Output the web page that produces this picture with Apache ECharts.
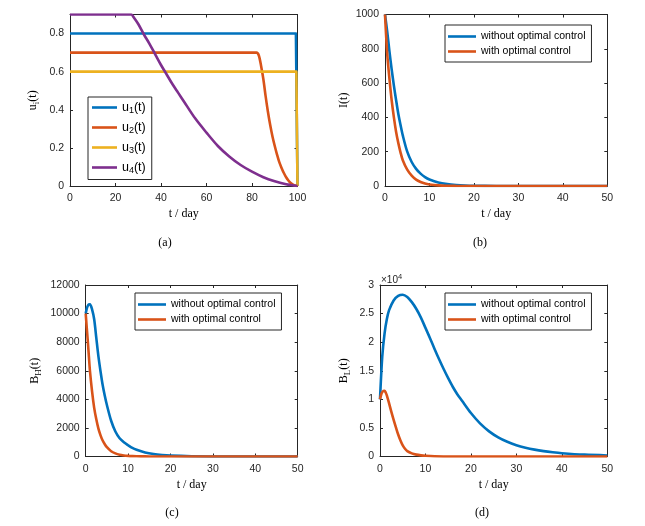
<!DOCTYPE html>
<html>
<head>
<meta charset="utf-8">
<script src="https://cdn.jsdelivr.net/npm/echarts@6/dist/echarts.min.js"></script>
<style>
html, body { margin: 0; padding: 0; background: #fff; }
#chart { width: 645px; height: 526px; }
</style>
</head>
<body>
<div id="chart"></div>
<script>
// (a) controls u_i(t), t in days
var tU1 = [0, 99.3, 100];
var u1 = [0.8, 0.8, 0];
var tU2 = [0, 82, 83, 84, 85, 86, 87, 88, 89, 90, 91, 92, 93, 94, 95, 96, 97, 98, 99, 100];
var u2 = [0.7, 0.7, 0.685, 0.63, 0.56, 0.47, 0.39, 0.32, 0.26, 0.21, 0.165, 0.125, 0.095, 0.068, 0.046, 0.029, 0.016, 0.007, 0.002, 0];
var tU3 = [0, 99.5, 100];
var u3 = [0.6, 0.6, 0];
var tU4 = [0, 27, 28, 30, 32.5, 35, 37.5, 40, 42.5, 45, 47.5, 50, 55, 60, 65, 70, 75, 80, 85, 90, 95, 100];
var u4 = [0.9, 0.9, 0.885, 0.85, 0.795, 0.745, 0.69, 0.635, 0.585, 0.535, 0.49, 0.445, 0.355, 0.28, 0.21, 0.155, 0.11, 0.075, 0.046, 0.025, 0.009, 0];

// (b) I(t)
var tI = [0, 0.5, 1, 1.5, 2, 2.5, 3, 3.5, 4, 5, 6, 7, 8, 9, 10, 12, 14, 16, 18, 20, 25, 30, 40, 50];
var iWithout = [1000, 900, 785, 680, 585, 500, 420, 355, 295, 200, 140, 100, 72, 52, 38, 20, 11, 6, 3, 1.5, 0.3, 0, 0, 0];
var iWith = [1000, 770, 625, 500, 400, 315, 250, 195, 150, 95, 60, 37, 23, 14, 9, 3.5, 1.2, 0.4, 0.1, 0, 0, 0, 0, 0];

// (c) B_H(t)
var tBH = [0, 0.25, 0.5, 0.75, 1, 1.5, 2, 2.5, 3, 3.5, 4, 4.5, 5, 6, 7, 8, 9, 10, 11, 12, 14, 16, 18, 20, 25, 30, 35, 40, 50];
var bhWithout = [10000, 10350, 10550, 10640, 10650, 10300, 9600, 8300, 7000, 5950, 5000, 4250, 3600, 2500, 1750, 1280, 1000, 790, 600, 470, 285, 170, 100, 58, 15, 4, 1, 0, 0];
var bhWith = [10000, 9000, 8050, 7000, 6000, 4550, 3400, 2600, 1950, 1480, 1120, 860, 650, 370, 220, 125, 75, 45, 27, 16, 6, 2, 1, 0, 0, 0, 0, 0, 0];

// (d) B_L(t)
var tBL = [0, 0.5, 1, 1.5, 2, 3, 4, 5, 6, 7, 8, 9, 10, 11, 12, 13, 14, 15, 16, 17, 18, 20, 22, 24, 26, 28, 30, 32, 34, 36, 38, 40, 45, 50];
var blWithout = [10000, 17500, 21500, 24000, 25600, 27300, 28100, 28300, 27900, 27000, 25800, 24300, 22500, 20700, 18800, 17000, 15300, 13700, 12200, 10900, 9800, 7600, 5800, 4400, 3350, 2570, 1980, 1540, 1200, 940, 740, 580, 320, 180];
var tBLWith = [0, 0.25, 0.5, 0.75, 1, 1.25, 1.5, 2, 2.5, 3, 3.5, 4, 4.5, 5, 5.5, 6, 7, 8, 9, 10, 12, 15, 20, 30, 50];
var blWith = [10000, 10800, 11250, 11480, 11500, 11200, 10700, 9300, 7800, 6400, 5100, 3850, 2800, 1950, 1350, 950, 550, 330, 200, 120, 40, 10, 0, 0, 0];

var legendNames = ['without optimal control', 'with optimal control'];
var panelLabels = ['(a)', '(b)', '(c)', '(d)'];

var blue = '#0072BD', red = '#D95319', yellow = '#EDB120', purple = '#7E2F8E';
var axisColor = '#262626';

function pairs(t, v) {
    return t.map(function (x, i) { return [x, v[i]]; });
}

function xAxis(g, max, interval, top) {
    return {
        type: 'value', gridIndex: g, min: 0, max: max, interval: interval,
        position: top ? 'top' : 'bottom',
        name: top ? '' : 't / day', nameLocation: 'middle', nameGap: 22,
        nameTextStyle: { fontFamily: 'Liberation Serif', fontSize: 12, color: '#000' },
        axisLine: { show: true, onZero: false, lineStyle: { color: axisColor, width: 1 } },
        axisTick: { show: true, inside: true, length: 3, lineStyle: { color: axisColor } },
        axisLabel: { show: !top, margin: 7, fontFamily: 'Liberation Sans', fontSize: 10.5, color: axisColor },
        splitLine: { show: false }
    };
}

var nameRich = {
    n: { fontFamily: 'Liberation Serif', fontSize: 12, color: '#000', lineHeight: 16 },
    s: { fontFamily: 'Liberation Serif', fontSize: 9, color: '#000', verticalAlign: 'bottom' }
};

function yAxis(g, max, interval, right, name, gap, extra) {
    var ax = {
        type: 'value', gridIndex: g, min: 0, max: max, interval: interval,
        position: right ? 'right' : 'left',
        name: right ? '' : name, nameLocation: 'middle', nameGap: gap, nameRotate: 90,
        nameTextStyle: { rich: nameRich },
        axisLine: { show: true, onZero: false, lineStyle: { color: axisColor, width: 1 } },
        axisTick: { show: true, inside: true, length: 3, lineStyle: { color: axisColor } },
        axisLabel: {
            show: !right, margin: 6, fontFamily: 'Liberation Sans', fontSize: 10.5, color: axisColor,
            formatter: function (v) { return String(v); }
        },
        splitLine: { show: false }
    };
    if (extra && !right) {
        for (var k in extra) ax.axisLabel[k] = extra[k];
    }
    return ax;
}

function line(name, data, color, xi, yi, smooth) {
    return {
        type: 'line', name: name, data: data, xAxisIndex: xi, yAxisIndex: yi,
        symbol: 'none', smooth: smooth ? 0.3 : false,
        color: color, lineStyle: { width: 2.6, color: color, join: 'round' }, animation: false
    };
}

function legend(g, left, top, data, formatter, textRich) {
    return {
        show: true, orient: 'vertical', left: left, top: top, data: data,
        icon: 'rect', itemWidth: g === 0 ? 25 : 28, itemHeight: 2.6,
        itemGap: g === 0 ? 5.5 : 2, padding: g === 0 ? [4, 6, 4, 4] : [5, 6, 4, 3],
        borderColor: axisColor, borderWidth: 1, backgroundColor: '#fff',
        selectedMode: false, formatter: formatter,
        textStyle: textRich
    };
}

var chart = echarts.init(document.getElementById('chart'));
chart.setOption({
    animation: false,
    grid: [
        { left: 70, top: 14.5, width: 227.5, height: 171.5 },
        { left: 385, top: 14.5, width: 222.3, height: 171.5 },
        { left: 85.7, top: 285, width: 212, height: 171.5 },
        { left: 380, top: 285, width: 227.3, height: 171.5 }
    ],
    xAxis: [
        xAxis(0, 100, 20), xAxis(1, 50, 10), xAxis(2, 50, 10), xAxis(3, 50, 10),
        xAxis(0, 100, 20, true), xAxis(1, 50, 10, true), xAxis(2, 50, 10, true), xAxis(3, 50, 10, true)
    ],
    yAxis: [
        yAxis(0, 0.9, 0.2, false, '{n|u}{s|i}{n|(t)}', 29, { showMaxLabel: false }),
        yAxis(1, 1000, 200, false, '{n|I(t)}', 33),
        yAxis(2, 12000, 2000, false, '{n|B}{s|H}{n|(t)}', 43),
        yAxis(3, 30000, 5000, false, '{n|B}{s|L}{n|(t)}', 28, { formatter: function (v) { return String(v / 10000); } }),
        yAxis(0, 0.9, 0.2, true), yAxis(1, 1000, 200, true), yAxis(2, 12000, 2000, true), yAxis(3, 30000, 5000, true)
    ],
    legend: [
        legend(0, 88, 97, ['u1', 'u2', 'u3', 'u4'], function (name) {
            return '{n|u}{s|' + name.slice(1) + '}{n|(t)}';
        }, {
            rich: {
                n: { fontFamily: 'Liberation Sans', fontSize: 12.5, color: '#000', lineHeight: 16 },
                s: { fontFamily: 'Liberation Sans', fontSize: 9, color: '#000', verticalAlign: 'bottom' }
            }
        }),
        legend(1, 445, 25, legendNames, null, { fontFamily: 'Liberation Sans', fontSize: 10.5, color: '#000', lineHeight: 13 }),
        legend(2, 135, 293, legendNames, null, { fontFamily: 'Liberation Sans', fontSize: 10.5, color: '#000', lineHeight: 13 }),
        legend(3, 445, 293, legendNames, null, { fontFamily: 'Liberation Sans', fontSize: 10.5, color: '#000', lineHeight: 13 })
    ],
    series: [
        line('u1', pairs(tU1, u1), blue, 0, 0, false),
        line('u2', pairs(tU2, u2), red, 0, 0, true),
        line('u3', pairs(tU3, u3), yellow, 0, 0, false),
        line('u4', pairs(tU4, u4), purple, 0, 0, true),
        line(legendNames[0], pairs(tI, iWithout), blue, 1, 1, true),
        line(legendNames[1], pairs(tI, iWith), red, 1, 1, true),
        line(legendNames[0], pairs(tBH, bhWithout), blue, 2, 2, true),
        line(legendNames[1], pairs(tBH, bhWith), red, 2, 2, true),
        line(legendNames[0], pairs(tBL, blWithout), blue, 3, 3, true),
        line(legendNames[1], pairs(tBLWith, blWith), red, 3, 3, true)
    ],
    graphic: [
        { type: 'text', x: 165, y: 243, style: { text: panelLabels[0], font: '12px "Liberation Serif"', fill: '#000', textAlign: 'center', textVerticalAlign: 'middle' } },
        { type: 'text', x: 480, y: 243, style: { text: panelLabels[1], font: '12px "Liberation Serif"', fill: '#000', textAlign: 'center', textVerticalAlign: 'middle' } },
        { type: 'text', x: 172, y: 513, style: { text: panelLabels[2], font: '12px "Liberation Serif"', fill: '#000', textAlign: 'center', textVerticalAlign: 'middle' } },
        { type: 'text', x: 482, y: 513, style: { text: panelLabels[3], font: '12px "Liberation Serif"', fill: '#000', textAlign: 'center', textVerticalAlign: 'middle' } },
        {
            type: 'text', x: 381, y: 273,
            style: {
                text: '{n|×10}{p|4}',
                rich: {
                    n: { fontFamily: 'Liberation Sans', fontSize: 10, fill: axisColor, lineHeight: 14 },
                    p: { fontFamily: 'Liberation Sans', fontSize: 7.5, fill: axisColor, verticalAlign: 'top' }
                }
            }
        }
    ]
});
</script>
</body>
</html>
